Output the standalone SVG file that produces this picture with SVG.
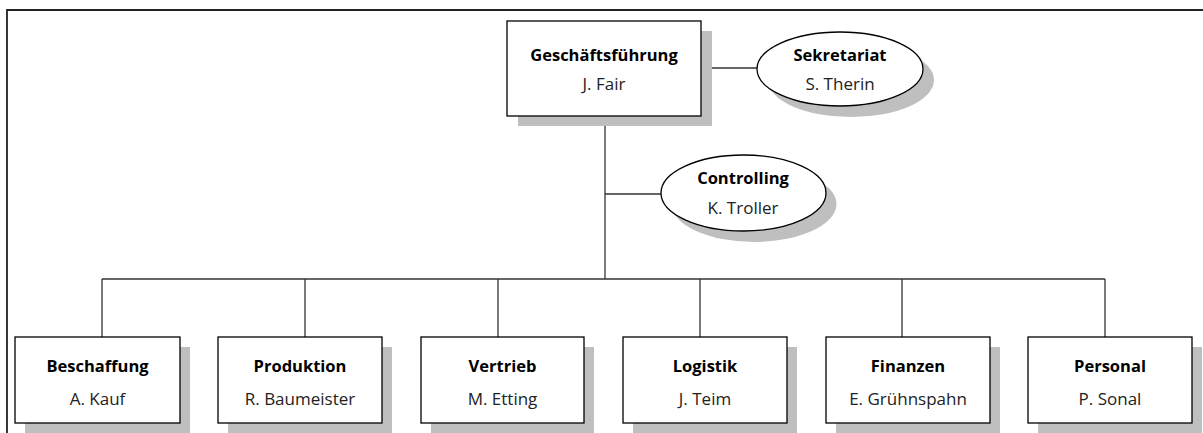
<svg xmlns="http://www.w3.org/2000/svg" width="1203" height="433" viewBox="0 0 1203 433">
<style>
.box{fill:#fff;stroke:#000;stroke-width:1.3}
.sh{fill:#bfbfbf}
.ln{fill:none;stroke:#333;stroke-width:1.3}
.t{font-family:"Open Sans","Noto Sans",sans-serif;font-size:16.5px;font-weight:bold;text-anchor:middle;fill:#000}
.n{font-family:"Open Sans","Noto Sans",sans-serif;font-size:17px;text-anchor:middle;fill:#222}
</style>
<rect width="1203" height="433" fill="#fff"/>
<path d="M7,433 V10 H1203" fill="none" stroke="#222" stroke-width="1.8"/>
<g id="connectors">
<path class="ln" d="M605,116 V279"/>
<path class="ln" d="M701,68 H757"/>
<path class="ln" d="M605,194 H661"/>
<path class="ln" d="M102,279 H1105"/>
<path class="ln" d="M102,279 V337 M305,279 V337 M498,279 V337 M700,279 V337 M902,279 V337 M1105,279 V337"/>
</g>
<g id="geschaeftsfuehrung">
<rect class="sh" x="518" y="31" width="194" height="95"/>
<rect class="box" x="507" y="21" width="194" height="95"/>
<text class="t" x="604" y="61">Geschäftsführung</text>
<text class="n" x="604" y="90">J. Fair</text>
</g>
<g id="sekretariat">
<ellipse class="sh" cx="851" cy="80" rx="83" ry="37"/>
<ellipse class="box" cx="840" cy="69" rx="83" ry="37"/>
<text class="t" x="840" y="61">Sekretariat</text>
<text class="n" x="840" y="90">S. Therin</text>
</g>
<g id="controlling">
<ellipse class="sh" cx="754" cy="204" rx="82.5" ry="38"/>
<ellipse class="box" cx="743.5" cy="193" rx="82.5" ry="38"/>
<text class="t" x="743" y="184">Controlling</text>
<text class="n" x="743" y="214">K. Troller</text>
</g>
<g id="beschaffung">
<rect class="sh" x="25" y="347" width="165" height="86"/>
<rect class="box" x="15" y="337" width="165" height="86"/>
<text class="t" x="97.5" y="372">Beschaffung</text>
<text class="n" x="97.5" y="405">A. Kauf</text>
</g>
<g id="produktion">
<rect class="sh" x="228" y="347" width="164" height="86"/>
<rect class="box" x="218" y="337" width="164" height="86"/>
<text class="t" x="300" y="372">Produktion</text>
<text class="n" x="300" y="405">R. Baumeister</text>
</g>
<g id="vertrieb">
<rect class="sh" x="431" y="347" width="163" height="86"/>
<rect class="box" x="421" y="337" width="163" height="86"/>
<text class="t" x="502.5" y="372">Vertrieb</text>
<text class="n" x="502.5" y="405">M. Etting</text>
</g>
<g id="logistik">
<rect class="sh" x="633" y="347" width="164" height="86"/>
<rect class="box" x="623" y="337" width="164" height="86"/>
<text class="t" x="705" y="372">Logistik</text>
<text class="n" x="705" y="405">J. Teim</text>
</g>
<g id="finanzen">
<rect class="sh" x="836" y="347" width="164" height="86"/>
<rect class="box" x="826" y="337" width="164" height="86"/>
<text class="t" x="908" y="372">Finanzen</text>
<text class="n" x="908" y="405">E. Grühnspahn</text>
</g>
<g id="personal">
<rect class="sh" x="1038" y="347" width="164" height="86"/>
<rect class="box" x="1028" y="337" width="164" height="86"/>
<text class="t" x="1110" y="372">Personal</text>
<text class="n" x="1110" y="405">P. Sonal</text>
</g>
</svg>
